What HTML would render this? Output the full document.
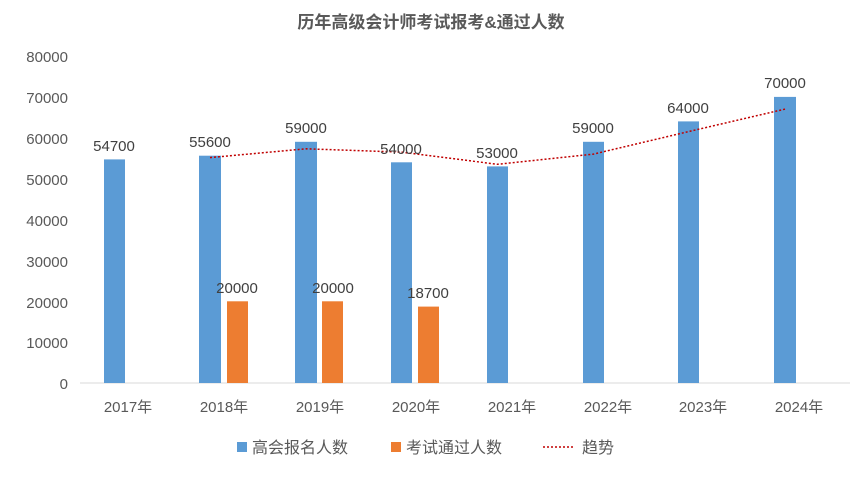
<!DOCTYPE html>
<html><head><meta charset="utf-8"><style>
body{margin:0;background:#fff;}
text{font-family:"Liberation Sans","Noto Sans CJK SC",sans-serif;}
</style></head><body>
<svg width="862" height="475" xmlns="http://www.w3.org/2000/svg">
<rect width="862" height="475" fill="#fff"/>
<text x="431" y="28" text-anchor="middle" font-size="17" font-weight="bold" fill="#595959">历年高级会计师考试报考&amp;通过人数</text>
<g font-size="15" fill="#595959" text-anchor="end">
<text x="68" y="62">80000</text><text x="68" y="103">70000</text><text x="68" y="144">60000</text>
<text x="68" y="185">50000</text><text x="68" y="226">40000</text><text x="68" y="267">30000</text>
<text x="68" y="308">20000</text><text x="68" y="348">10000</text><text x="68" y="389">0</text>
</g>
<line x1="80" y1="383" x2="850" y2="383" stroke="#d9d9d9"/>
<g fill="#5b9bd5">
<rect x="104" y="159.4" width="21" height="223.6"/>
<rect x="199" y="155.7" width="22" height="227.3"/>
<rect x="295" y="141.8" width="22" height="241.2"/>
<rect x="391" y="162.3" width="21" height="220.7"/>
<rect x="487" y="166.4" width="21" height="216.6"/>
<rect x="583" y="141.8" width="21" height="241.2"/>
<rect x="678" y="121.4" width="21" height="261.6"/>
<rect x="774" y="96.9" width="22" height="286.1"/>
</g>
<g fill="#ed7d31">
<rect x="227" y="301.3" width="21" height="81.7"/>
<rect x="322" y="301.3" width="21" height="81.7"/>
<rect x="418" y="306.6" width="21" height="76.4"/>
</g>
<polyline fill="none" stroke="#c00000" stroke-width="1.5" stroke-dasharray="2,2" points="210,157.6 306,148.8 401.5,152.1 497.5,164.3 593.5,154.1 688.5,131.6 785,109.1"/>
<g font-size="15" fill="#404040" text-anchor="middle">
<text x="114" y="151">54700</text><text x="210" y="147">55600</text><text x="306" y="133">59000</text>
<text x="401" y="154">54000</text><text x="497" y="158">53000</text><text x="593" y="133">59000</text>
<text x="688" y="113">64000</text><text x="785" y="88">70000</text>
<text x="237" y="293">20000</text><text x="333" y="293">20000</text><text x="428" y="298">18700</text>
</g>
<g font-size="15" fill="#595959" text-anchor="middle">
<text x="128" y="412">2017年</text><text x="224" y="412">2018年</text><text x="320" y="412">2019年</text>
<text x="416" y="412">2020年</text><text x="512" y="412">2021年</text><text x="608" y="412">2022年</text>
<text x="703" y="412">2023年</text><text x="799" y="412">2024年</text>
</g>
<rect x="237" y="442" width="10" height="10" fill="#5b9bd5"/>
<text x="252" y="453" font-size="16" fill="#595959">高会报名人数</text>
<rect x="391" y="442" width="10" height="10" fill="#ed7d31"/>
<text x="406" y="453" font-size="16" fill="#595959">考试通过人数</text>
<line x1="543" y1="447" x2="575" y2="447" stroke="#c00000" stroke-width="1.5" stroke-dasharray="2,2"/>
<text x="582" y="453" font-size="16" fill="#595959">趋势</text>
</svg>
</body></html>
